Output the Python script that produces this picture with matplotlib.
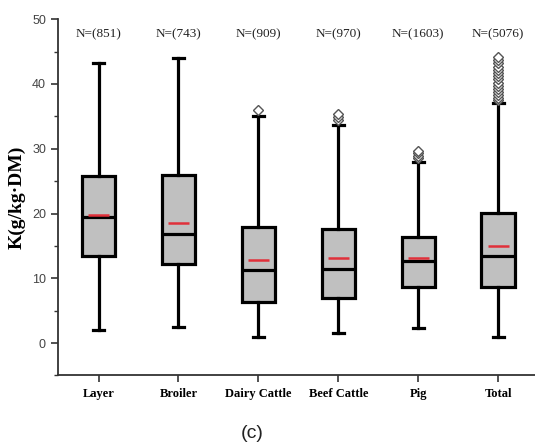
import matplotlib
matplotlib.use("Agg")
import matplotlib.pyplot as plt

# Potassium content of manure by livestock type
categories = ["Layer", "Broiler", "Dairy Cattle", "Beef Cattle", "Pig", "Total"]
n_counts = [851, 743, 909, 970, 1603, 5076]
whisker_low = [2.0, 2.5, 1.0, 1.5, 2.3, 0.9]
q1 = [13.5, 12.2, 6.3, 6.9, 8.6, 8.7]
median = [19.5, 16.9, 11.3, 11.4, 12.6, 13.5]
q3 = [25.8, 25.9, 17.9, 17.6, 16.4, 20.1]
whisker_high = [43.2, 44.0, 35.1, 33.6, 28.0, 37.0]
means = [19.7, 18.5, 12.85, 13.2, 13.1, 15.0]
outliers = [
    [],
    [],
    [36.0],
    [34.4, 34.9, 35.4],
    [28.5, 28.9, 29.3, 29.7],
    [37.5, 37.9, 38.3, 38.7, 39.2, 39.7, 40.2, 40.7, 41.2, 41.7, 42.2, 42.7, 43.2, 43.7, 44.1],
]

fig = plt.figure(figsize=(5.35, 4.47), dpi=100)
ax = fig.add_axes([0.108, 0.16, 0.892, 0.797])

stats = []
for i, name in enumerate(categories):
    stats.append(dict(label=name, whislo=whisker_low[i], q1=q1[i], med=median[i],
                      q3=q3[i], whishi=whisker_high[i], fliers=outliers[i]))

positions = list(range(1, len(categories) + 1))
lw = 2.3
ax.bxp(stats, positions=positions, widths=0.42, capwidths=0.14, patch_artist=True,
       showfliers=True,
       boxprops=dict(facecolor="#c0c0c0", edgecolor="black", linewidth=lw),
       medianprops=dict(color="black", linewidth=lw),
       whiskerprops=dict(color="black", linewidth=lw),
       capprops=dict(color="black", linewidth=lw),
       flierprops=dict(marker="D", markersize=5, markerfacecolor="white",
                       markeredgecolor="#555555", markeredgewidth=1.0, linestyle="none"))

# mean markers
ax.hlines(means, [p - 0.13 for p in positions], [p + 0.13 for p in positions],
          colors="#e0303a", linewidth=1.8, zorder=5)

# sample sizes above each box
for p, n in zip(positions, n_counts):
    ax.text(p, 47.6, f"N=({n})", ha="center", va="center",
            family="Liberation Serif", fontsize=9.5, color="#222222")

ax.set_xlim(0.49, 6.46)
ax.set_ylim(-5, 50)
ax.set_yticks([0, 10, 20, 30, 40, 50])
ax.set_yticks([-5, 5, 15, 25, 35, 45], minor=True)
ax.set_xticks(positions)
ax.set_xticklabels(categories, family="Liberation Serif", fontweight="bold", fontsize=9)
for t in ax.get_yticklabels():
    t.set_family("Liberation Sans")
    t.set_fontsize(9)
    t.set_color("#444444")

ax.spines["top"].set_visible(False)
ax.spines["right"].set_visible(False)
for s in ("left", "bottom"):
    ax.spines[s].set_linewidth(1.3)
    ax.spines[s].set_color("#333333")
ax.tick_params(axis="both", which="major", direction="out", length=5, width=1.2, color="#333333")
ax.tick_params(axis="y", which="minor", direction="out", length=3, width=1.0, color="#333333")
ax.tick_params(axis="x", pad=4)

ax.set_ylabel("K(g/kg·DM)", family="Liberation Serif", fontweight="bold", fontsize=14)
ax.yaxis.set_label_coords(-0.068, 0.5)

fig.text(0.471, 0.031, "(c)", ha="center", va="center", family="Liberation Sans", fontsize=14,
         color="#222222")

fig.savefig("out.png", dpi=100)
